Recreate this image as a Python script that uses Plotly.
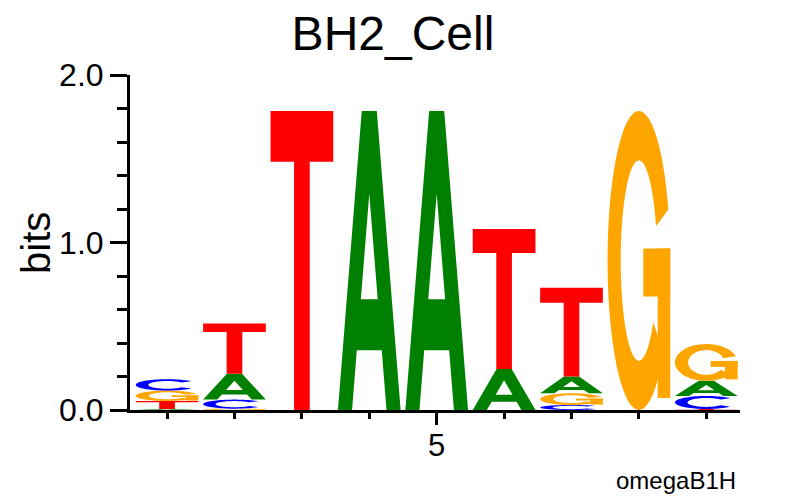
import numpy as np
import plotly.graph_objects as go

# ---------------- data ----------------
positions = [1, 2, 3, 4, 5, 6, 7, 8, 9]
A_bits = [0.006, 0.155, 0.0, 1.785, 1.785, 0.245, 0.100, 0.0, 0.090]
C_bits = [0.068, 0.054, 0.0, 0.0, 0.0, 0.0, 0.030, 0.0, 0.078]
G_bits = [0.062, 0.008, 0.0, 0.0, 0.0, 0.0, 0.070, 1.785, 0.220]
T_bits = [0.048, 0.300, 1.785, 0.0, 0.0, 0.835, 0.530, 0.0, 0.006]
letter_colors = {"A": "#008000", "C": "#0000FF", "G": "#FFA500", "T": "#FF0000"}
y_tickvals = [0, 1, 2]
y_ticktext = ["0.0", "1.0", "2.0"]
x_tickvals = [5]
x_ticktext = ["5"]
title_text = "BH2_Cell"
footer_text = "omegaB1H"

# ---------------- glyph outlines in a unit box ----------------
def ring(a0, a1, rx_in, ry_in, n=60):
    t = np.radians(np.linspace(a0, a1, n))
    outer = [(0.5 + 0.5 * np.cos(a), 0.5 + 0.5 * np.sin(a)) for a in t]
    inner = [(0.5 + rx_in * np.cos(a), 0.5 + ry_in * np.sin(a)) for a in t[::-1]]
    return outer + inner

def rect(x0, y0, x1, y1):
    return [(x0, y0), (x1, y0), (x1, y1), (x0, y1)]

def glyph(letter):
    """returns list of (polygons, fillrule)"""
    if letter == "T":
        return [([[(0, 0.83), (1, 0.83), (1, 1), (0, 1)],
                  rect(0.375, 0, 0.625, 0.84)], "nonzero")]
    if letter == "A":
        s = 0.38   # horizontal run of the outer diagonal
        th = 0.225  # leg thickness
        outer = [(0, 0), (s, 1), (1 - s, 1), (1, 0), (1 - th, 0),
                 (1 - th - s * 0.2, 0.2), (th + s * 0.2, 0.2), (th, 0)]
        yb = 0.37
        ya = (0.5 - th) / s
        hole = [(th + s * yb, yb), (1 - th - s * yb, yb), (0.5, ya)]
        return [([outer, hole], "evenodd")]
    if letter == "C":
        return [([ring(40, 320, 0.30, 0.34)], "nonzero")]
    if letter == "G":
        return [([ring(20, 322, 0.29, 0.335)], "nonzero"),
                ([rect(0.57, 0.38, 1.0, 0.54)], "nonzero"),
                ([rect(0.80, 0.04, 1.0, 0.54)], "nonzero")]
    return []

letter_width = 0.93

def path_for(polys, x0, y0, h):
    parts = []
    for poly in polys:
        pts = [(x0 + px * letter_width, y0 + py * h) for px, py in poly]
        s = "M " + " L ".join(f"{x:.4f},{y:.5f}" for x, y in pts) + " Z"
        parts.append(s)
    return " ".join(parts)

shapes = []
series = {"A": A_bits, "C": C_bits, "G": G_bits, "T": T_bits}
for i, pos in enumerate(positions):
    stack = sorted([(series[l][i], l) for l in "ACGT" if series[l][i] > 0])
    base = 0.0
    for h, l in stack:
        x0 = pos - letter_width / 2
        for polys, rule in glyph(l):
            shapes.append(dict(type="path", xref="x", yref="y",
                               path=path_for(polys, x0, base, h),
                               fillcolor=letter_colors[l], fillrule=rule,
                               line=dict(width=0), layer="above"))
        base += h

fig = go.Figure()
fig.add_trace(go.Scatter(x=[positions[0]], y=[0], mode="markers",
                         marker=dict(opacity=0), hoverinfo="skip", showlegend=False))

# page body has an 8px margin: figure is 780x488 placed at (8, 8)
W, H = 780, 488
font_family = "Liberation Sans, Arial, Helvetica, sans-serif"
fig.update_layout(
    width=W, height=H,
    margin=dict(l=122, r=48, t=67, b=86),
    paper_bgcolor="white", plot_bgcolor="white",
    shapes=shapes,
    font=dict(family=font_family, color="black"),
    title=dict(text=title_text, x=(393 - 8) / W, xref="container", xanchor="center",
               y=1 - (33 - 8) / H, yref="container", yanchor="middle",
               font=dict(size=48, family=font_family, color="black")),
    showlegend=False,
    annotations=[
        dict(text=footer_text, xref="paper", yref="paper", x=0.997, y=-0.209,
             xanchor="right", yanchor="middle", showarrow=False,
             font=dict(size=24, family=font_family, color="black")),
        dict(text="bits", xref="paper", yref="paper", x=-0.155, y=0.5,
             xanchor="center", yanchor="middle", textangle=-90, showarrow=False,
             font=dict(size=40, family=font_family, color="black")),
    ],
)
fig.update_xaxes(
    range=[0.45, 9.5], showgrid=False, zeroline=False,
    showline=True, linewidth=3, linecolor="black",
    ticks="outside", tickmode="array", tickvals=x_tickvals, ticktext=x_ticktext,
    ticklen=12, tickwidth=3, tickcolor="black", ticklabelstandoff=-6,
    tickfont=dict(size=31, family=font_family, color="black"),
    minor=dict(tickmode="array", tickvals=positions, ticks="outside",
               ticklen=6, tickwidth=3, tickcolor="black", showgrid=False),
)
fig.update_yaxes(
    range=[0, 2.0], showgrid=False, zeroline=False,
    showline=True, linewidth=3, linecolor="black",
    ticks="outside", tickmode="array", tickvals=y_tickvals, ticktext=y_ticktext,
    ticklen=17, tickwidth=3, tickcolor="black",
    tickfont=dict(size=32, family=font_family, color="black"),
    minor=dict(dtick=0.2, tick0=0, ticks="outside",
               ticklen=10, tickwidth=3, tickcolor="black", showgrid=False),
)

fig.write_html("out.html")
